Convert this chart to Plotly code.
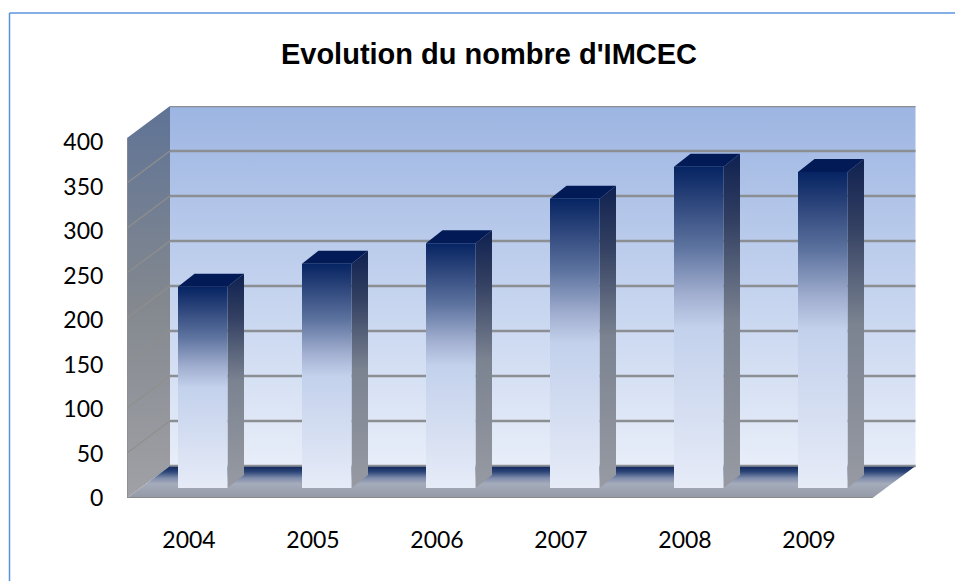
import plotly.graph_objects as go

years = ["2004", "2005", "2006", "2007", "2008", "2009"]
values = [226, 252, 275, 325, 361, 355]
y_ticks = [0, 50, 100, 150, 200, 250, 300, 350, 400]

W, H = 955, 581
ML, MR, MT, MB = 127, 39, 106, 83
PX_PER_CAT = 124.0
PX_PER_VAL = 0.89
XMIN = -0.5
XMAX = XMIN + (W - ML - MR) / PX_PER_CAT
YMAX = (H - MT - MB) / PX_PER_VAL

WALL_SCALE = 0.9 / PX_PER_VAL   # walls are drawn slightly taller than the label scale
WALL_DX = 43 / PX_PER_CAT
WALL_DY = 32 / PX_PER_VAL
BAR_LEFT = -11 / PX_PER_CAT
BAR_W = 49.5 / PX_PER_CAT
BAR_BASE = 10 / PX_PER_VAL
BAR_DX = 16.5 / PX_PER_CAT
BAR_DY = 13 / PX_PER_VAL
XEND = 5.5 + 1.5 / PX_PER_CAT

fig = go.Figure()


def poly(xs, ys, scale=None, color=None, start=None, stop=None):
    kw = dict(x=xs + xs[:1], y=ys + ys[:1], mode="lines", line=dict(width=0),
              fill="toself", hoverinfo="skip", showlegend=False)
    if scale:
        kw["fillgradient"] = dict(type="vertical", colorscale=scale, start=start, stop=stop)
        kw["fillcolor"] = scale[0][1]
    else:
        kw["fillcolor"] = color
    fig.add_trace(go.Scatter(**kw))


def seg(xs, ys, color, width):
    fig.add_trace(go.Scatter(x=xs, y=ys, mode="lines", line=dict(color=color, width=width),
                             hoverinfo="skip", showlegend=False, cliponaxis=False))


# back wall
poly([XMIN + WALL_DX, XEND + WALL_DX, XEND + WALL_DX, XMIN + WALL_DX],
     [WALL_DY, WALL_DY, YMAX, YMAX],
     scale=[[0, "#e8eef9"], [0.5, "#c3d2ee"], [1, "#9db5e2"]], start=WALL_DY, stop=YMAX)
for t in y_ticks:
    g = t * WALL_SCALE + WALL_DY
    seg([XMIN + WALL_DX, XEND + WALL_DX], [g, g], "#8b8e92", 2.5)

# left wall
poly([XMIN, XMIN + WALL_DX, XMIN + WALL_DX, XMIN],
     [0, WALL_DY, YMAX, 400 * WALL_SCALE],
     scale=[[0, "#a0a1a6"], [0.5, "#83888f"], [1, "#5f7396"]], start=0, stop=YMAX)
for t in y_ticks[1:-1]:
    seg([XMIN, XMIN + WALL_DX], [t * WALL_SCALE, t * WALL_SCALE + WALL_DY], "#8f8f8c", 1.2)
seg([XMIN, XMIN], [0, 400 * WALL_SCALE], "#8a8c90", 1.5)

# floor
poly([XMIN, XEND, XEND + WALL_DX, XMIN + WALL_DX],
     [0, 0, WALL_DY, WALL_DY],
     scale=[[0, "#9499a6"], [0.45, "#a4abba"], [0.62, "#7f8dac"], [0.82, "#2c4577"], [1, "#10275d"]],
     start=0, stop=WALL_DY)
seg([XMIN, XEND], [0, 0], "#8a8a8a", 2)
seg([XMIN + WALL_DX, XEND + WALL_DX], [WALL_DY, WALL_DY], "#8b8e92", 1.5)

# bars
for i, v in enumerate(values):
    x0 = i + BAR_LEFT
    x1 = x0 + BAR_W
    b = BAR_BASE
    t = b + v
    # side
    poly([x1, x1 + BAR_DX, x1 + BAR_DX, x1],
         [b, b + BAR_DY, t + BAR_DY, t],
         scale=[[0, "#979aa2"], [0.5, "#7b8391"], [0.8, "#323f61"], [1, "#0f2150"]], start=b, stop=t + BAR_DY)
    # top
    poly([x0, x1, x1 + BAR_DX, x0 + BAR_DX],
         [t, t, t + BAR_DY, t + BAR_DY], color="#021b57")
    # front
    poly([x0, x1, x1, x0],
         [b, b, t, t],
         scale=[[0, "#e6ebf7"], [0.5, "#c3d1ec"], [0.6, "#a2afd0"], [0.75, "#5d739f"],
                [0.9, "#2a4379"], [1, "#062463"]], start=b, stop=t)

font = dict(family="Lato, Noto Sans, sans-serif", size=23, color="#000000")
PW = W - ML - MR
PH = H - MT - MB
FRAME_X = (9.5 - ML) / PW
FRAME_Y = 1 + (MT - 13) / PH
fig.update_layout(
    width=W, height=H, paper_bgcolor="white", plot_bgcolor="rgba(0,0,0,0)",
    margin=dict(l=ML, r=MR, t=MT, b=MB, pad=0),
    title=dict(text="<b>Evolution du nombre d'IMCEC</b>", x=489 / W, xanchor="center",
               y=1 - 54 / H, yanchor="middle", yref="container",
               font=dict(family="Liberation Sans, Arial, sans-serif", size=29, color="#000000")),
    xaxis=dict(range=[XMIN, XMAX], tickmode="array", tickvals=list(range(len(years))), ticktext=years,
               showgrid=False, zeroline=False, showline=False, ticks="outside", ticklen=21,
               tickcolor="rgba(0,0,0,0)", tickfont=font),
    yaxis=dict(range=[0, YMAX], tickmode="array", tickvals=y_ticks, ticktext=[str(t) for t in y_ticks],
               showgrid=False, zeroline=False, showline=False, ticks="outside", ticklen=18,
               tickcolor="rgba(0,0,0,0)", tickfont=font),
    shapes=[
        dict(type="line", xref="paper", yref="paper",
             x0=FRAME_X, x1=(W - ML) / PW, y0=FRAME_Y, y1=FRAME_Y,
             line=dict(color="#5b93dc", width=1.5)),
        dict(type="line", xref="paper", yref="paper",
             x0=FRAME_X, x1=FRAME_X, y0=FRAME_Y, y1=-MB / PH,
             line=dict(color="#5b93dc", width=1.5)),
    ],
)
fig.write_html("out.html", config={"displayModeBar": False},
               post_script="document.body.style.margin='0';document.body.style.overflow='hidden';")
